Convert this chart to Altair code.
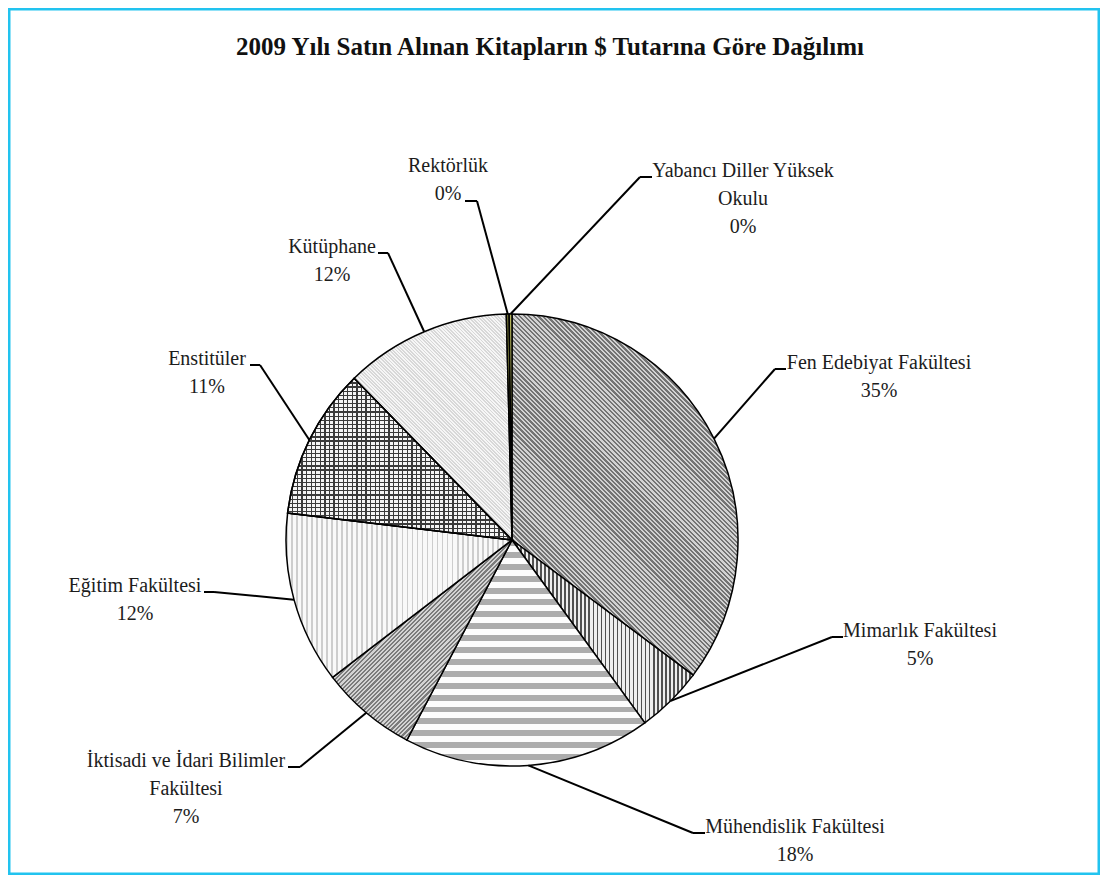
import math
import altair as alt
import pandas as pd

# ---------------- data ----------------
TITLE = "2009 Yılı Satın Alınan Kitapların  $ Tutarına Göre Dağılımı"
CATEGORIES = [
    "Fen Edebiyat Fakültesi",
    "Mimarlık Fakültesi",
    "Mühendislik Fakültesi",
    "İktisadi ve İdari Bilimler Fakültesi",
    "Eğitim Fakültesi",
    "Enstitüler",
    "Kütüphane",
    "Rektörlük",
    "Yabancı Diller Yüksek Okulu",
]
VALUES = [35.2, 4.8, 17.7, 6.9, 12.3, 10.8, 11.9, 0.2, 0.2]
TOTAL = round(sum(VALUES), 6)

# ---------------- layout (page pixel coordinates) ----------------
W, H = 1092, 867
CX, CY, R = 512, 540, 226
WRAP = {
    "İktisadi ve İdari Bilimler Fakültesi": "İktisadi ve İdari Bilimler\nFakültesi",
    "Yabancı Diller Yüksek Okulu": "Yabancı Diller Yüksek\nOkulu",
}
LABEL_X = [879, 920, 795, 186, 135, 207, 332, 448, 743]
LABEL_Y = [369, 637, 833, 767, 592, 365, 253, 172, 177]
ELBOW_X = [775, 832, 693, 300, 214, 260, 388, 477, 640]
ELBOW_Y = [369, 637, 833, 767, 592, 365, 253, 201, 177]
TICK_X = [786, 843, 705, 288, 204, 250, 378, 465, 652]


# ---------------- hatch-pattern helpers (styling) ----------------
def slice_bbox(a0, a1):
    xs, ys = [0.0], [0.0]
    steps = 200
    for k in range(steps + 1):
        t = a0 + (a1 - a0) * k / steps
        xs.append(R * math.sin(t))
        ys.append(-R * math.cos(t))
    return max(xs) - min(xs), max(ys) - min(ys)


def stripes(normal_deg, period, w, h, c1, c2, duty):
    a = math.radians(normal_deg)
    nx, ny = math.cos(a), math.sin(a)
    corners = [(0, 0), (1, 0), (0, 1), (1, 1)]
    proj = [u * w * nx + v * h * ny for u, v in corners]
    mn, mx = min(proj), max(proj)
    L = mx - mn
    alpha, beta = w * nx / L, h * ny / L
    d2 = alpha * alpha + beta * beta
    dx, dy = alpha / d2, beta / d2
    p1 = corners[proj.index(mn)]
    count = max(1, int(round(L / period)))
    stops = []
    for i in range(count):
        o0 = i / count
        om = (i + duty) / count
        o1 = (i + 1) / count
        stops += [
            {"offset": round(o0, 6), "color": c1},
            {"offset": round(om, 6), "color": c1},
            {"offset": round(om, 6), "color": c2},
            {"offset": round(min(o1, 1.0), 6), "color": c2},
        ]
    return {
        "gradient": "linear",
        "x1": p1[0], "y1": p1[1],
        "x2": p1[0] + dx, "y2": p1[1] + dy,
        "stops": stops,
    }


cum = 0.0
BBOX = []
for v in VALUES:
    a0 = 2 * math.pi * cum / TOTAL
    cum += v
    a1 = 2 * math.pi * cum / TOTAL
    BBOX.append(slice_bbox(a0, a1))

FILLS = [
    stripes(-45, 3.2, *BBOX[0], "#737373", "#d2d2d2", 0.5),
    stripes(0, 4.0, *BBOX[1], "#505050", "#eeeeee", 0.4),
    stripes(90, 12.0, *BBOX[2], "#acacac", "#fcfcfc", 0.5),
    stripes(45, 3.0, *BBOX[3], "#7c7c7c", "#d4d4d4", 0.5),
    stripes(0, 5.0, *BBOX[4], "#cdcdcd", "#f9f9f9", 0.35),
    stripes(90, 4.2, *BBOX[5], "#3a3a3a", "#f4f4f4", 0.3),
    stripes(-45, 2.4, *BBOX[6], "#d8d8d8", "#f6f6f6", 0.5),
    "#7f7f3a",
    "#b8b85c",
]
OVERLAY_5 = stripes(0, 4.6, *BBOX[5], "#3a3a3a", "transparent", 0.28)

df = pd.DataFrame({
    "idx": list(range(len(CATEGORIES))),
    "category": CATEGORIES,
    "value": VALUES,
    "label": [WRAP.get(c, c) for c in CATEGORIES],
    "lx": LABEL_X, "ly": LABEL_Y,
    "ex": ELBOW_X, "ey": ELBOW_Y,
    "tx": TICK_X, "ty": ELBOW_Y,
})

xs = alt.Scale(domain=[8, 8 + W], nice=False, zero=False)
ys = alt.Scale(domain=[8, 8 + H], nice=False, zero=False, reverse=True)
thscale = alt.Scale(domain=[0, TOTAL], range=[0, 2 * math.pi])

base = (
    alt.Chart(df)
    .transform_window(cum_end="sum(value)", sort=[alt.SortField("idx")], frame=[None, 0])
    .transform_calculate(cum_start="datum.cum_end - datum.value")
    .transform_calculate(mid="datum.cum_end - datum.value / 2")
    .transform_calculate(sx=f"{CX} + {R} * sin(2 * PI * datum.mid / {TOTAL})")
    .transform_calculate(sy=f"{CY} - {R} * cos(2 * PI * datum.mid / {TOTAL})")
    .transform_calculate(txt=f"datum.label + '\\n' + format(datum.value / {TOTAL}, '.0%')")
)


def arc_layer(i, fill):
    return (
        base.transform_filter(f"datum.idx == {i}")
        .mark_arc(fill=fill, stroke="#000000", strokeWidth=1.5, outerRadius=R)
        .encode(
            theta=alt.Theta("cum_start:Q", scale=thscale, stack=False),
            theta2="cum_end:Q",
            x=alt.value(CX - 8),
            y=alt.value(CY - 8),
        )
    )


layers = [arc_layer(i, f) for i, f in enumerate(FILLS)]
layers.append(arc_layer(5, OVERLAY_5))

lines1 = base.mark_rule(color="#000000", strokeWidth=2).encode(
    x=alt.X("sx:Q", scale=xs, axis=None),
    y=alt.Y("sy:Q", scale=ys, axis=None),
    x2="ex:Q",
    y2="ey:Q",
)
lines2 = base.mark_rule(color="#000000", strokeWidth=2).encode(
    x=alt.X("ex:Q", scale=xs, axis=None),
    y=alt.Y("ey:Q", scale=ys, axis=None),
    x2="tx:Q",
    y2="ty:Q",
)
texts = base.mark_text(
    font="Liberation Serif", fontSize=20, lineBreak="\n", lineHeight=28,
    align="center", baseline="alphabetic", color="#1c1c1c",
).encode(
    x=alt.X("lx:Q", scale=xs, axis=None),
    y=alt.Y("ly:Q", scale=ys, axis=None),
    text="txt:N",
)
title = alt.Chart(pd.DataFrame({"t": [TITLE]})).mark_text(
    font="Liberation Serif", fontSize=25, fontWeight="bold",
    align="center", baseline="alphabetic", color="#111111",
).encode(
    x=alt.X(datum=550, type="quantitative", scale=xs, axis=None),
    y=alt.Y(datum=55, type="quantitative", scale=ys, axis=None),
    text="t:N",
)

chart = (
    alt.layer(*layers, lines1, lines2, texts, title)
    .properties(width=W, height=H, padding=0, background="white")
    .configure_view(stroke="#22c3ef", strokeWidth=5)
)

chart.save("out.html", embed_options={"renderer": "svg", "actions": False})
